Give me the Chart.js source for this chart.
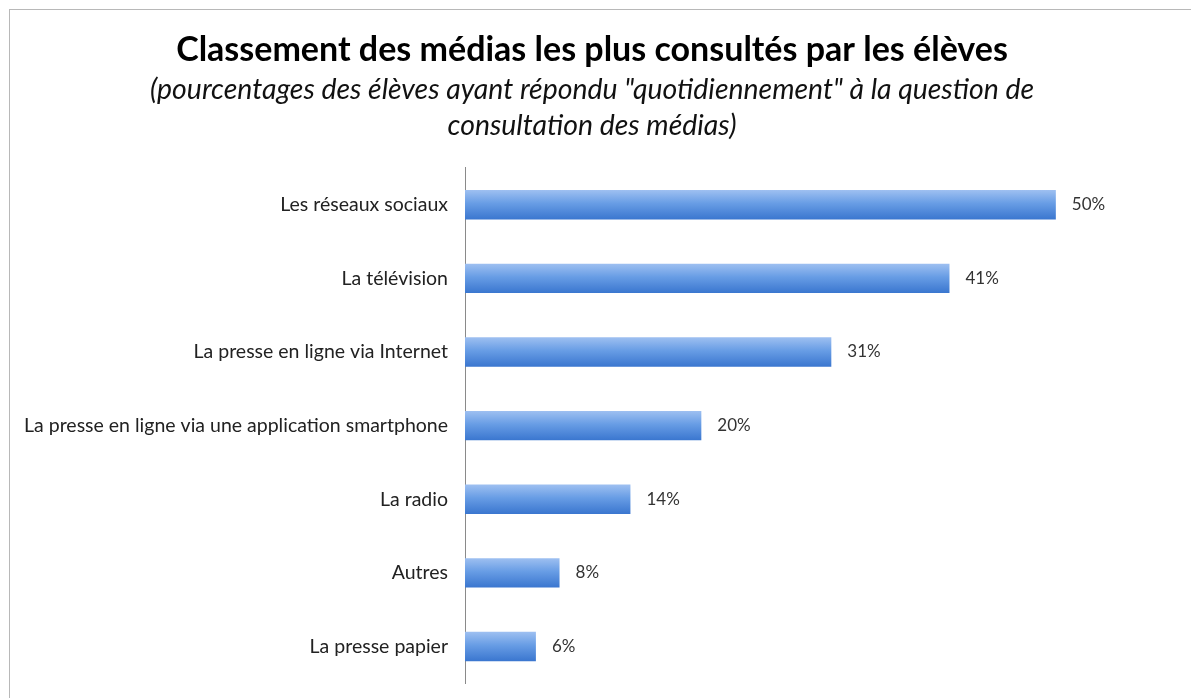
<!DOCTYPE html>
<html>
<head>
<meta charset="utf-8">
<script src="https://cdn.jsdelivr.net/npm/chart.js@4"></script>
<style>
  html, body { margin: 0; padding: 0; background: #fff; overflow: hidden; }
  #frame {
    position: absolute; left: 9px; top: 9px;
    width: 1200px; height: 720px;
    border-left: 1px solid #b8b8b8; border-top: 1px solid #b8b8b8;
  }
  #chart { position: absolute; left: 0; top: 0; }
</style>
</head>
<body>
<div id="frame"><canvas id="chart" width="1181" height="694"></canvas></div>
<script>
// categories and values (percent of pupils answering "daily")
const medias = [
    "Les réseaux sociaux",
    "La télévision",
    "La presse en ligne via Internet",
    "La presse en ligne via une application smartphone",
    "La radio",
    "Autres",
    "La presse papier"
];
const percents = [50, 41, 31, 20, 14, 8, 6];

const FONT = "Lato, 'Open Sans', sans-serif";
Chart.defaults.font.family = FONT;
Chart.defaults.color = "#222";

// vertical gradient for each bar, based on the category scale
function barGradient(c) {
    const chart = c.chart;
    const y = chart.scales.y;
    if (!y || c.dataIndex === undefined) return "#5b93e0";
    const center = y.getPixelForValue(c.dataIndex);
    const half = (y.height / medias.length) * 0.4 / 2;
    if (!isFinite(center) || !isFinite(half) || half <= 0) return "#5b93e0";
    const g = chart.ctx.createLinearGradient(0, center - half, 0, center + half);
    g.addColorStop(0, "#9ec0f1");
    g.addColorStop(0.45, "#689de5");
    g.addColorStop(1, "#3a76cf");
    return g;
}

// percentage labels at the end of the bars
const valueLabels = {
    id: "valueLabels",
    afterDatasetsDraw(chart) {
        const ctx = chart.ctx;
        const meta = chart.getDatasetMeta(0);
        ctx.save();
        ctx.font = "17px " + FONT;
        ctx.fillStyle = "#333";
        ctx.textBaseline = "middle";
        meta.data.forEach((bar, i) => {
            ctx.fillText(percents[i] + "%", bar.x + 16, bar.y);
        });
        ctx.restore();
    }
};

new Chart(document.getElementById("chart"), {
    type: "bar",
    data: {
        labels: medias,
        datasets: [{
            data: percents,
            backgroundColor: barGradient,
            borderWidth: 0,
            barPercentage: 0.8,
            categoryPercentage: 0.5
        }]
    },
    options: {
        indexAxis: "y",
        responsive: false,
        animation: false,
        layout: { padding: { top: 0, right: 17, bottom: 11, left: 0 } },
        plugins: {
            legend: { display: false },
            tooltip: { enabled: false },
            title: {
                display: true,
                text: "Classement des médias les plus consultés par les élèves",
                font: { size: 34, weight: "bold", family: FONT },
                color: "#000",
                padding: { top: 20, bottom: 1 }
            },
            subtitle: {
                display: true,
                text: ["(pourcentages des élèves ayant répondu \"quotidiennement\" à la question de",
                       "consultation des médias)"],
                font: { size: 28.4, style: "italic", family: FONT, lineHeight: 1.27 },
                color: "#111",
                padding: { top: 0, bottom: 24 }
            }
        },
        scales: {
            x: {
                display: false,
                min: 0,
                max: 60
            },
            y: {
                afterFit(scale) { scale.width = 455; },
                grid: { display: false },
                border: { display: true, color: "#8a8a8a", width: 1 },
                ticks: { font: { size: 19.5 }, color: "#222", padding: 9 }
            }
        }
    },
    plugins: [valueLabels]
});
</script>
</body>
</html>
